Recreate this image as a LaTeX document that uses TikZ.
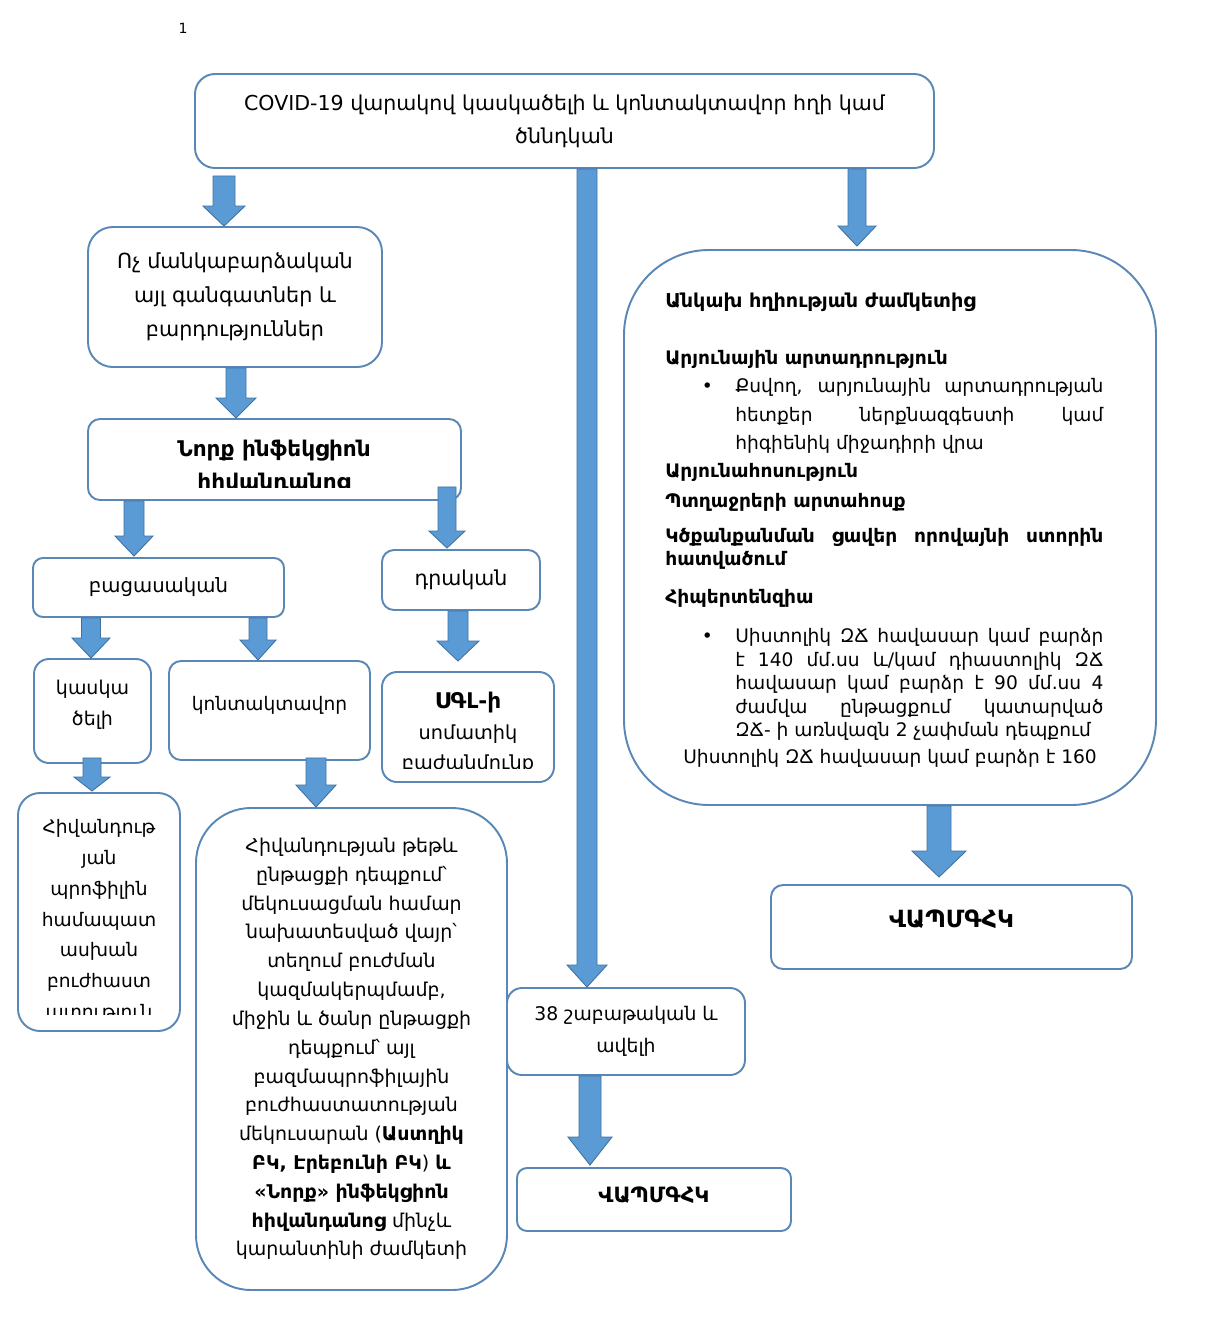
\documentclass[tikz,border=0pt]{standalone}
\usepackage{fontspec}
\setmainfont{DejaVu Sans}
\usetikzlibrary{calc}
\definecolor{BoxLine}{RGB}{90,136,182}
\definecolor{ArrowFill}{RGB}{91,155,213}
\definecolor{ArrowLine}{RGB}{65,113,160}
\tikzstyle{box} = [draw=BoxLine, line width=1.1pt, inner sep=0pt, align=center, fill=white]
\tikzstyle{fatarrow} = [fill=ArrowFill, draw=ArrowLine, line width=0.5pt, line join=miter]
\tikzset{sz/.style 2 args={minimum width=#1*0.02cm, minimum height=#2*0.02cm}}
\newcommand{\fs}[2]{\fontsize{#1}{#2}\selectfont}
% block arrow: x, from, to, shaft half width, head half width, head length (all in px)
\newcommand{\fatarrow}[6]{%
  \draw[fatarrow] let \p1=(#2), \p2=(#3) in
    ({(#1-#4)*0.02cm},\y1) -- ({(#1+#4)*0.02cm},\y1)
    -- ({(#1+#4)*0.02cm},{\y2+#6*0.02cm}) -- ({(#1+#5)*0.02cm},{\y2+#6*0.02cm})
    -- ({#1*0.02cm},\y2)
    -- ({(#1-#5)*0.02cm},{\y2+#6*0.02cm}) -- ({(#1-#4)*0.02cm},{\y2+#6*0.02cm}) -- cycle;
}

\begin{document}
\begin{tikzpicture}[x=0.02cm, y=-0.02cm]
    \useasboundingbox[fill=white] (0,0) rectangle (1205,1329);

    % page number
    \node[font=\fs{8}{10}] (pagenum) at (183,28) {1};

    % top
    \node[box, sz={739}{94}, rounded corners=0.4cm, font=\fs{11.7}{18.7}] (top) at (564.5,121)
        {COVID-19 վարակով կասկածելի և կոնտակտավոր հղի կամ\\ծննդկան};

    % left branch
    \node[box, sz={294}{140}, rounded corners=0.5cm, font=\fs{11.8}{19.3}] (noch) at (235,297)
        {Ոչ մանկաբարձական\\այլ գանգատներ և\\բարդություններ};
    \node[box, sz={373}{81}, rounded corners=0.24cm] (nork) at (274.5,459.5) {};
    \begin{scope}
        \clip (nork.north west) rectangle ([yshift=13*0.02cm]nork.south east);
        \node[font=\bfseries\fs{12.3}{18.7}, align=center] (norktxt) at (274,467)
            {Նորք ինֆեկցիոն\\հիվանդանոց};
    \end{scope}
    \node[box, sz={251}{59}, rounded corners=0.2cm, font=\fs{11.2}{18}] (bac) at (158.5,587.5) {բացասական};
    \node[box, sz={158}{60}, rounded corners=0.24cm, font=\fs{11.7}{18}] (drakan) at (461,580) {դրական};
    \node[box, sz={117}{104}, rounded corners=0.3cm, font=\fs{10.8}{17.6}, text depth=9.4pt] (kaskac) at (92.5,711) {կասկա\\ծելի};
    \node[box, sz={201}{99}, rounded corners=0.24cm, font=\fs{10.6}{18}, text depth=8.5pt] (kont) at (269.5,710.5) {կոնտակտավոր};
    \node[box, sz={172}{110}, rounded corners=0.3cm] (sgl) at (468,727) {};
    \begin{scope}
        \clip (sgl.north west) rectangle ([yshift=14*0.02cm]sgl.south east);
        \node[font=\fs{11}{17.5}, align=center] (sgltxt) at (468,733)
            {\textbf{\fs{12.3}{17.5}ՍԳԼ-ի}\\սոմատիկ\\բաժանմունք};
    \end{scope}
    \node[box, sz={162}{238}, rounded corners=0.44cm] (hivand) at (99,912) {};
    \begin{scope}
        \clip (hivand.north west) rectangle ([yshift=17*0.02cm]hivand.south east);
        \node[font=\fs{10.6}{17.5}, align=center] (hivandtxt) at (99,921)
            {Հիվանդութ\\յան\\պրոֆիլին\\համապատ\\ասխան\\բուժհաստ\\ատություն};
    \end{scope}
    \node[box, sz={311}{482}, rounded corners=1.1cm, font=\fs{10.8}{16.4}] (bigleft) at (351.5,1049)
        {Հիվանդության թեթև\\ընթացքի դեպքում՝\\մեկուսացման համար\\նախատեսված վայր՝\\տեղում բուժման\\կազմակերպմամբ,\\միջին և ծանր ընթացքի\\դեպքում՝ այլ\\բազմապրոֆիլային\\բուժհաստատության\\մեկուսարան (\textbf{Աստղիկ}\\\textbf{ԲԿ, Էրեբունի ԲԿ}) \textbf{և}\\\textbf{«Նորք» ինֆեկցիոն}\\\textbf{հիվանդանոց} մինչև\\կարանտինի ժամկետի};

    % middle branch
    \node[box, sz={238}{87}, rounded corners=0.3cm, font=\fs{10.7}{18}] (n38) at (626,1031.5) {38 շաբաթական և\\ավելի};
    \node[box, sz={274}{63}, rounded corners=0.2cm, font=\bfseries\fs{12}{16}, text depth=6pt] (vapmb) at (654,1199.5) {ՎԱՊՄԳՀԿ};

    % right branch
    \node[box, sz={532}{555}, rounded corners=1.7cm] (right) at (890,527.5) {};
    \node[anchor=north west, text width=438*0.02cm, align=justify, inner sep=0pt, font=\fs{10.6}{13.4}] (signs) at (665,293) {%
        {\fs{10.9}{13.4}\textbf{Անկախ հղիության ժամկետից}}\par\vspace{18.9pt}
        \textbf{Արյունային արտադրություն}\par
        {\leftskip=1.4cm \baselineskip=16.1pt \noindent\llap{•\hspace{0.45cm}}Քսվող, արյունային արտադրության\linebreak հետքեր ներքնազգեստի կամ\linebreak հիգիենիկ միջադիրի վրա\par}
        \vspace{2.5pt}\textbf{Արյունահոսություն}\par
        \vspace{3.6pt}\textbf{Պտղաջրերի արտահոսք}\par
        \vspace{7pt}{\baselineskip=13pt \textbf{Կծքանքանման ցավեր որովայնի ստորին\linebreak հատվածում}\par}
        \vspace{8.6pt}\textbf{Հիպերտենզիա}\par
        \vspace{8.6pt}{\leftskip=1.4cm \noindent\llap{•\hspace{0.45cm}}Սիստոլիկ ԶՃ հավասար կամ բարձր\linebreak է 140 մմ.սս և/կամ դիաստոլիկ ԶՃ\linebreak հավասար կամ բարձր է 90 մմ.սս 4\linebreak ժամվա ընթացքում կատարված\linebreak ԶՃ- ի առնվազն 2 չափման դեպքում\par}
        \vspace{1.9pt}\noindent\hspace*{0.36cm}Սիստոլիկ ԶՃ հավասար կամ բարձր է 160\par};
    \node[box, sz={361}{84}, rounded corners=0.24cm, font=\bfseries\fs{13.5}{18}, text depth=9pt] (vapmr) at (951.5,927) {ՎԱՊՄԳՀԿ};

    % arrows
    \fatarrow{224}{[yshift=-7*0.02cm]top.south}{noch.north}{11}{21}{20}
    \fatarrow{587}{top.south}{n38.north}{10}{20}{22}
    \fatarrow{857}{top.south}{[yshift=3*0.02cm]right.north}{9}{19}{20}
    \fatarrow{236}{noch.south}{nork.north}{10}{20}{20}
    \fatarrow{134}{nork.south}{[yshift=1*0.02cm]bac.north}{10}{19}{20}
    \fatarrow{447}{[yshift=14*0.02cm]nork.south}{[yshift=1*0.02cm]drakan.north}{9}{18}{17}
    \fatarrow{91}{bac.south}{kaskac.north}{9.5}{19}{20}
    \fatarrow{258}{bac.south}{kont.north}{9}{18}{20}
    \fatarrow{458}{drakan.south}{[yshift=10*0.02cm]sgl.north}{10}{21}{20}
    \fatarrow{92}{[yshift=6*0.02cm]kaskac.south}{[yshift=1*0.02cm]hivand.north}{9}{18}{14}
    \fatarrow{316}{[yshift=3*0.02cm]kont.south}{bigleft.north}{10}{20}{22}
    \fatarrow{590}{n38.south}{[yshift=2*0.02cm]vapmb.north}{11}{22}{28}
    \fatarrow{939}{right.south}{[yshift=7*0.02cm]vapmr.north}{12}{27}{26}
\end{tikzpicture}
\end{document}
